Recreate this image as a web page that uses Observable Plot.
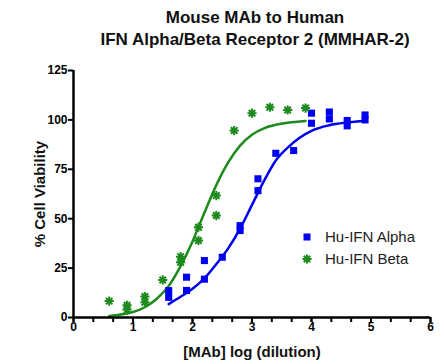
<!DOCTYPE html>
<html>
<head>
<meta charset="utf-8">
<script src="https://cdn.jsdelivr.net/npm/d3@7"></script>
<script src="https://cdn.jsdelivr.net/npm/@observablehq/plot@0.6"></script>
<style>
  html, body { margin: 0; padding: 0; background: #fff; }
  body { width: 444px; height: 364px; position: relative; font-family: Arial, "Liberation Sans", sans-serif; overflow: hidden; }
  #title { box-sizing: border-box; width: 444px; height: 56px; padding: 7px 0 0 66px; text-align: center; font-weight: bold; font-size: 17px; line-height: 22px; color: #111; }
  #chart svg { display: block; }
  #legend { position: absolute; left: 300px; top: 226px; font-size: 15px; color: #222; line-height: 22px; }
  #legend .row { display: flex; align-items: center; height: 22px; }
  #legend svg { margin-right: 11px; }
</style>
</head>
<body>
<div id="title">Mouse MAb to Human<br>IFN Alpha/Beta Receptor 2 (MMHAR-2)</div>
<div id="chart"></div>
<div id="legend"></div>
<script>
// ---- data ----
const seriesNames = ["Hu-IFN Alpha", "Hu-IFN Beta"];
const seriesColors = ["#0000f0", "#1c8a1c"];

const alphaX = [1.6, 1.6, 1.9, 1.9, 2.2, 2.2, 2.5, 2.8, 2.8, 3.1, 3.1, 3.4, 3.7, 4.0, 4.0, 4.3, 4.3, 4.6, 4.6, 4.9, 4.9];
const alphaY = [13.6, 10.2, 20.4, 13.7, 28.8, 19.4, 30.5, 46.5, 44, 70.2, 64.2, 83.1, 84.5, 103.4, 98.3, 104, 100.5, 99.7, 97, 102.5, 100];

const betaX = [0.6, 0.9, 0.9, 1.2, 1.2, 1.5, 1.8, 1.8, 2.1, 2.1, 2.4, 2.4, 2.7, 3.0, 3.3, 3.6, 3.9];
const betaY = [8.3, 6.2, 4.0, 10.6, 7.7, 19, 30.8, 28, 45.7, 39, 61.7, 51.6, 94.6, 103.4, 106.4, 105, 106];

// fitted curves
const alphaCurveX = [1.6, 1.8, 2.0, 2.2, 2.4, 2.6, 2.8, 3.0, 3.2, 3.4, 3.6, 3.8, 4.0, 4.3, 4.6, 4.9];
const alphaCurveY = [6.8, 10.5, 14.5, 19.8, 27, 35, 45, 57, 69, 79.5, 86, 91, 94.5, 97.3, 98.7, 99.6];
const betaCurveX = [0.6, 0.8, 1.0, 1.2, 1.4, 1.6, 1.8, 2.0, 2.2, 2.4, 2.6, 2.8, 3.0, 3.2, 3.4, 3.6, 3.9];
const betaCurveY = [0.8, 1.5, 2.8, 5.2, 9.5, 16, 26, 38.5, 53, 67, 78.5, 87, 92.5, 95.7, 97.5, 98.6, 99.5];

const xTickLabels = [0, 1, 2, 3, 4, 5, 6];
const xMinorTicks = [0, 1/3, 2/3, 1, 4/3, 5/3, 2, 7/3, 8/3, 3, 10/3, 11/3, 4, 13/3, 14/3, 5, 16/3, 17/3, 6];
const yTickLabels = [0, 25, 50, 75, 100, 125];
const xLabel = "[MAb] log (dilution)";
const yLabel = "% Cell Viability";

// ---- tables ----
const alphaPts = alphaX.map((x, i) => ({x, y: alphaY[i]}));
const betaPts = betaX.map((x, i) => ({x, y: betaY[i]}));
const alphaCurve = alphaCurveX.map((x, i) => ({x, y: alphaCurveY[i]}));
const betaCurve = betaCurveX.map((x, i) => ({x, y: betaCurveY[i]}));

// 8-spoke asterisk symbol
const star8 = {
  draw(context, size) {
    const r = Math.sqrt(size / Math.PI);
    for (let k = 0; k < 4; k++) {
      const a = k * Math.PI / 4;
      const dx = r * Math.cos(a), dy = r * Math.sin(a);
      context.moveTo(-dx, -dy);
      context.lineTo(dx, dy);
    }
  }
};

const font = 'Arial, "Liberation Sans", sans-serif';

const chart = Plot.plot({
  width: 444,
  height: 308,
  marginTop: 14,
  marginBottom: 47,
  marginLeft: 73,
  marginRight: 14,
  style: {fontFamily: font, color: "#000", background: "#fff"},
  x: {domain: [0, 6]},
  y: {domain: [0, 125]},
  marks: [
    Plot.line(betaCurve, {x: "x", y: "y", stroke: seriesColors[1], strokeWidth: 2.5, curve: "monotone-x"}),
    Plot.line(alphaCurve, {x: "x", y: "y", stroke: seriesColors[0], strokeWidth: 2.5, curve: "monotone-x"}),
    Plot.dot(alphaPts, {x: "x", y: "y", symbol: "square", r: 4, fill: seriesColors[0], stroke: "none"}),
    Plot.dot(betaPts, {x: "x", y: "y", symbol: star8, r: 4.6, stroke: seriesColors[1], strokeWidth: 2, fill: "none"}),
    Plot.axisX({ticks: xMinorTicks, tickSize: 5, tickFormat: () => "", strokeWidth: 2, label: null}),
    Plot.axisX({ticks: xTickLabels, tickSize: 5, tickPadding: 0, tickFormat: d => String(d), fontSize: 12, fontWeight: "bold", strokeWidth: 2, label: null}),
    Plot.axisY({ticks: yTickLabels, tickSize: 5, tickPadding: 1, fontSize: 12, fontWeight: "bold", strokeWidth: 2, label: null}),
    Plot.ruleX([0], {y1: 0, y2: 125, stroke: "#000", strokeWidth: 2.5}),
    Plot.ruleY([0], {x1: 0, x2: 6, stroke: "#000", strokeWidth: 2.5}),
    Plot.text([yLabel], {frameAnchor: "left", dx: -33, rotate: -90, fontSize: 15, fontWeight: "bold", fill: "#111", lineAnchor: "middle", textAnchor: "middle"}),
    Plot.text([xLabel], {frameAnchor: "bottom", dy: 35, fontSize: 15, fontWeight: "bold", fill: "#111", lineAnchor: "middle", textAnchor: "middle"})
  ]
});
document.getElementById("chart").appendChild(chart);

// legend
const legend = document.getElementById("legend");
seriesNames.forEach((name, i) => {
  const row = document.createElement("div");
  row.className = "row";
  const ns = "http://www.w3.org/2000/svg";
  const s = document.createElementNS(ns, "svg");
  s.setAttribute("width", 14); s.setAttribute("height", 14);
  if (i === 0) {
    const r = document.createElementNS(ns, "rect");
    r.setAttribute("x", 3.5); r.setAttribute("y", 3.5); r.setAttribute("width", 7); r.setAttribute("height", 7);
    r.setAttribute("fill", seriesColors[0]);
    s.appendChild(r);
  } else {
    const p = document.createElementNS(ns, "path");
    const ctx = d3.path();
    star8.draw({moveTo: (a, b) => ctx.moveTo(7 + a, 7 + b), lineTo: (a, b) => ctx.lineTo(7 + a, 7 + b)}, Math.PI * 4.6 * 4.6);
    p.setAttribute("d", ctx.toString());
    p.setAttribute("stroke", seriesColors[1]); p.setAttribute("stroke-width", 2); p.setAttribute("fill", "none");
    s.appendChild(p);
  }
  row.appendChild(s);
  const t = document.createElement("span");
  t.textContent = name;
  row.appendChild(t);
  legend.appendChild(row);
});
</script>
</body>
</html>
